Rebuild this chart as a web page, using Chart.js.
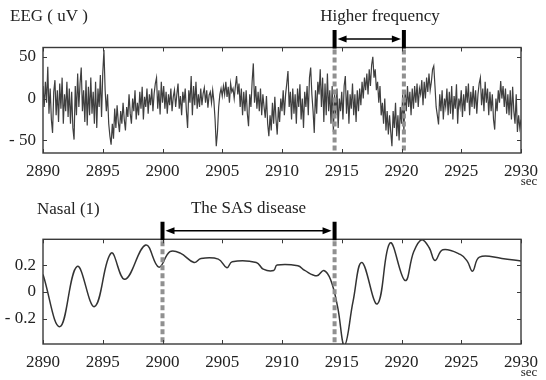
<!DOCTYPE html>
<html>
<head>
<meta charset="utf-8">
<script src="https://cdn.jsdelivr.net/npm/chart.js@4.4.1/dist/chart.umd.min.js"></script>
<style>
  html, body { margin: 0; padding: 0; background: #fff; }
  canvas { display: block; }
</style>
</head>
<body>
<canvas id="eeg" width="546" height="190"></canvas>
<canvas id="nasal" width="546" height="190"></canvas>
<script>
// ---- data ----
var xTicks = [2890, 2895, 2900, 2905, 2910, 2915, 2920, 2925, 2930];

var eegStart = 2890, eegStep = 0.1;   // one sample every 0.1 s
var eegValues = [
  15, -10, 20, -5, 38, -18, 12, -25, -41, 8,
  22, -20, 10, -28, 18, -12, 25, -30, 5, -15,
  20, -22, 12, -30, 8, -35, -49, 15, -20, 30,
  -10, 18, 37, -15, 10, -28, 22, -32, 14, -20,
  25, -18, 8, -30, 20, -35, 12, -10, 28, -22,
  30, 58, 10, -15, 5, -30, -45, -55, -30, -48,
  -12, -35, -8, -28, -40, -15, -30, -5, -25, -38,
  -10, -22, 5, -18, -30, 0, -15, 10, -25, -5,
  -20, 8, -12, 14, -25, 2, -10, 12, -18, 5,
  -8, 12, -15, 6, 18, 25, -12, 10, -19, 20,
  -5, 15, -12, 8, -18, 5, -8, 12, -15, 2,
  10, -10, 5, 18, -12, 3, -20, 8, -5, 12,
  -15, -35, 10, -5, 27, -20, 15, -8, 20, -12,
  5, -10, 12, -8, 6, 13, -5, 10, -11, 4,
  8, -5, 10, -3, -25, -57, -40, -10, 5, 12,
  3, 15, 5, 20, 2, 14, -5, 18, 8, 12,
  0, 15, 27, 5, 18, -10, 12, -20, 8, -15,
  10, -18, -33, 5, -10, 20, 42, -5, 15, -12,
  8, -15, 12, -20, 5, -10, -23, 3, -30, -45,
  -20, -38, -5, -30, 2, -25, -43, -10, -28, 0,
  -15, 10, -20, 5, 18, 33, -10, 8, -25, 12,
  -18, 5, -30, 12, -10, 17, -25, 0, -35, 8,
  -10, 15, -20, 25, 37, 5, -15, -41, 10, -18,
  20, 5, 35, -10, 25, -28, 18, -20, 30, -15,
  10, -30, 15, -40, 5, -20, 12, -35, 0, -15,
  8, -25, 15, 27, -18, 10, -30, 5, -12, 18,
  -20, 5, -28, 10, -15, 12, -8, 20, 0, 25,
  10, 30, 5, 35, 15, 40, 50, 25, 35, 10,
  20, -5, 15, -20, -5, -30, 0, -38, -15, -43,
  -20, -40, -57, -15, -35, -5, -45, -20, -50, -10,
  -30, 5, -40, 10, -15, 15, -10, 8, -20, 12,
  -12, 15, -5, 18, -10, 12, 5, 22, -8, 20,
  0, 25, 8, 30, 10, 20, 35, 39, 15, -10,
  -20, -31, 5, -15, 10, -25, 0, -10, 12, -20,
  8, -18, 15, -25, 3, -12, 17, -30, 0, -10,
  10, -22, 5, -15, 15, -5, 18, -20, 8, -10,
  15, -12, 10, -18, 5, 18, 25, -8, 12, -15,
  20, -5, 12, -20, 8, -15, 5, -25, -37, 0,
  -15, 10, -5, 21, 0, 15, -10, 12, -18, 5,
  -20, 10, -25, 14, -15, -30, 5, -40, -20, -35,
  -25
];
var eegYTicks = [-50, 0, 50];
var eegYLabels = ['- 50', '0', '50'];
var eegEvents = [2914.4, 2920.2];

var nasalTimes = [
  2890, 2891.42, 2892.86, 2894.31, 2895.7, 2896.86, 2898.59, 2899.69,
  2900.62, 2901.49, 2902.64, 2903.22, 2904.67, 2905.39, 2905.83, 2907.85,
  2908.43, 2909.3, 2909.59, 2911.33, 2911.9, 2912.92, 2913.5, 2914.07,
  2914.65, 2915.23, 2915.95, 2916.68, 2917.98, 2919.05, 2920.3, 2921.02,
  2921.7, 2922.32, 2922.8, 2923.46, 2924.92, 2925.5, 2925.95, 2926.52,
  2928.4, 2930
];
var nasalValues = [
  0.13, -0.26, 0.19, -0.11, 0.29, 0.094, 0.35, 0.185,
  0.30, 0.29, 0.22, 0.25, 0.245, 0.18, 0.225, 0.22,
  0.17, 0.16, 0.20, 0.195, 0.16, 0.12, 0.16, 0.09,
  -0.11, -0.40, -0.07, 0.22, -0.09, 0.366, 0.085, 0.30,
  0.39, 0.33, 0.235, 0.315, 0.28, 0.23, 0.155, 0.26,
  0.25, 0.23
];
var nasalYTicks = [-0.2, 0, 0.2];
var nasalYLabels = ['- 0.2', '0', '0.2'];
var nasalEvents = [2900.0, 2914.4];

var SERIF = "'Liberation Serif', 'Times New Roman', serif";
var INK = '#222';

// ---- frame, inward ticks, event markers, texts ----
var framePlugin = {
  id: 'frame',
  afterDatasetsDraw: function (chart, args, o) {
    var ctx = chart.ctx, a = chart.chartArea, xs = chart.scales.x;
    var xa = xs.getPixelForValue(o.events[0]);
    var xb = xs.getPixelForValue(o.events[1]);
    ctx.save();
    // dashed event lines
    ctx.strokeStyle = '#909090';
    ctx.lineWidth = 4;
    ctx.setLineDash([5, 3]);
    [xa, xb].forEach(function (px) {
      ctx.beginPath();
      ctx.moveTo(px, a.top + 2);
      ctx.lineTo(px, a.bottom);
      ctx.stroke();
    });
    ctx.restore();
  },
  afterDraw: function (chart, args, o) {
    var ctx = chart.ctx, a = chart.chartArea, xs = chart.scales.x, ys = chart.scales.y;
    ctx.save();
    // box
    ctx.strokeStyle = '#3a3a3a';
    ctx.lineWidth = 1.4;
    ctx.strokeRect(a.left, a.top, a.right - a.left, a.bottom - a.top);
    // inward ticks
    ctx.lineWidth = 1;
    ctx.beginPath();
    xs.ticks.forEach(function (t) {
      var px = Math.round(xs.getPixelForValue(t.value)) + 0.5;
      ctx.moveTo(px, a.bottom); ctx.lineTo(px, a.bottom - 4);
      ctx.moveTo(px, a.top); ctx.lineTo(px, a.top + 4);
    });
    ys.ticks.forEach(function (t) {
      var py = Math.round(ys.getPixelForValue(t.value)) + 0.5;
      ctx.moveTo(a.left, py); ctx.lineTo(a.left + 4, py);
      ctx.moveTo(a.right, py); ctx.lineTo(a.right - 4, py);
    });
    ctx.stroke();

    // bracket bars and double arrow
    var xa = xs.getPixelForValue(o.events[0]);
    var xb = xs.getPixelForValue(o.events[1]);
    var barTop = a.top - 17.5, arrowY = a.top - 8.5;
    ctx.strokeStyle = '#000';
    ctx.fillStyle = '#000';
    ctx.lineWidth = 4;
    ctx.beginPath();
    ctx.moveTo(xa, barTop); ctx.lineTo(xa, a.top + 1);
    ctx.moveTo(xb, barTop); ctx.lineTo(xb, a.top + 1);
    ctx.stroke();
    ctx.lineWidth = 1.5;
    ctx.beginPath();
    ctx.moveTo(xa + 8, arrowY); ctx.lineTo(xb - 8, arrowY);
    ctx.stroke();
    ctx.beginPath();
    ctx.moveTo(xa + 3, arrowY); ctx.lineTo(xa + 12, arrowY - 3.5); ctx.lineTo(xa + 12, arrowY + 3.5);
    ctx.closePath(); ctx.fill();
    ctx.beginPath();
    ctx.moveTo(xb - 3, arrowY); ctx.lineTo(xb - 12, arrowY - 3.5); ctx.lineTo(xb - 12, arrowY + 3.5);
    ctx.closePath(); ctx.fill();

    // texts
    ctx.fillStyle = INK;
    ctx.textBaseline = 'middle';
    ctx.font = '17px ' + SERIF;
    ctx.textAlign = 'left';
    ctx.fillText(o.title, o.titleX, o.titleY);
    ctx.textAlign = 'center';
    ctx.fillText(o.note, xs.getPixelForValue(o.noteAt), a.top - 30.5);
    ctx.font = '13px ' + SERIF;
    ctx.fillText('sec', a.right + 8, a.bottom + 29);
    ctx.restore();
  }
};

function makeChart(id, points, yMin, yMax, yTicks, yLabels, lineOpts, frame, padTop, xHeight) {
  var ds = Object.assign({ data: points, pointRadius: 0, fill: false }, lineOpts);
  return new Chart(document.getElementById(id), {
    type: 'line',
    data: { datasets: [ds] },
    plugins: [framePlugin],
    options: {
      responsive: false,
      animation: false,
      devicePixelRatio: 1,
      parsing: false,
      layout: { padding: { top: padTop, right: 20, left: 0, bottom: 0 } },
      plugins: { legend: { display: false }, tooltip: { enabled: false }, frame: frame },
      scales: {
        x: {
          type: 'linear', min: xTicks[0], max: xTicks[xTicks.length - 1],
          grid: { display: false, drawTicks: false },
          border: { display: false },
          afterBuildTicks: function (s) { s.ticks = xTicks.map(function (v) { return { value: v }; }); },
          afterFit: function (s) { s.height = xHeight; },
          ticks: {
            padding: 8, maxRotation: 0, autoSkip: false, color: INK,
            font: { family: SERIF, size: 17 },
            callback: function (v) { return String(v); }
          }
        },
        y: {
          min: yMin, max: yMax,
          grid: { display: false, drawTicks: false },
          border: { display: false },
          afterBuildTicks: function (s) { s.ticks = yTicks.map(function (v) { return { value: v }; }); },
          afterFit: function (s) { s.width = 43; },
          ticks: {
            padding: 7, color: INK,
            font: { family: SERIF, size: 17 },
            callback: function (v) { return yLabels[yTicks.indexOf(v)]; }
          }
        }
      }
    }
  });
}

var eegPoints = eegValues.map(function (v, i) {
  return { x: eegStart + i * eegStep, y: v };
});
var nasalPoints = nasalTimes.map(function (t, i) {
  return { x: t, y: nasalValues[i] };
});

makeChart('eeg', eegPoints, -65, 61, eegYTicks, eegYLabels,
  { borderColor: '#3f3f3f', borderWidth: 1.2, tension: 0 },
  { events: eegEvents, title: 'EEG ( uV )', titleX: 10, titleY: 17, note: 'Higher frequency', noteAt: 2918.2 },
  47.5, 37);

makeChart('nasal', nasalPoints, -0.39, 0.393, nasalYTicks, nasalYLabels,
  { borderColor: '#333', borderWidth: 1.5, tension: 0.4 },
  { events: nasalEvents, title: 'Nasal (1)', titleX: 37, titleY: 20, note: 'The SAS disease', noteAt: 2907.2 },
  49.3, 36);
</script>
</body>
</html>
